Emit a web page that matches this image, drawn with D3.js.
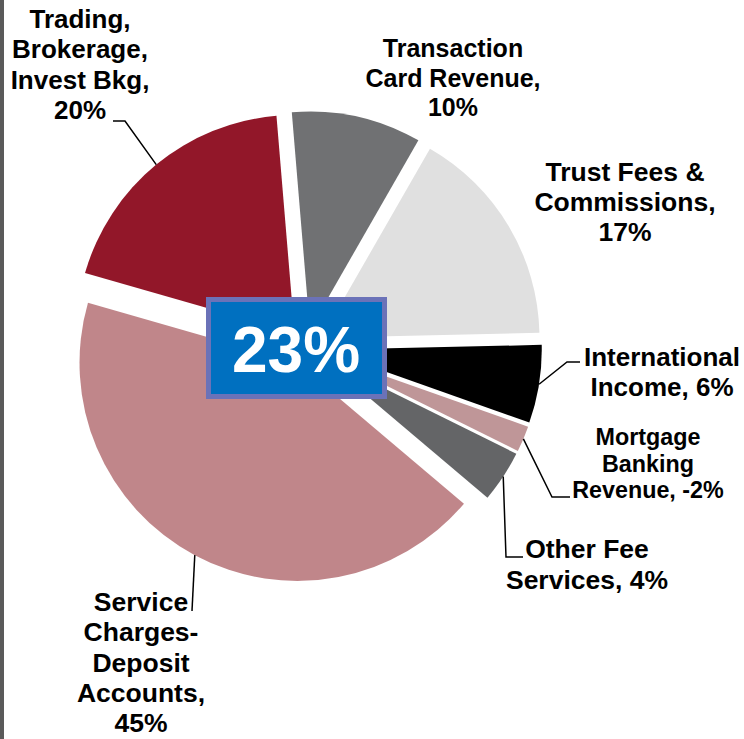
<!DOCTYPE html>
<html lang="en">
<head>
<meta charset="utf-8">
<title>Fee income mix</title>
<script src="https://cdn.jsdelivr.net/npm/d3@7"></script>
<style>
  body { margin: 0; background: #fff; }
  svg text { font-family: "Liberation Sans", Arial, sans-serif; font-weight: bold; }
</style>
</head>
<body>
<div id="chart"></div>
<script>
// slices, clockwise from the upper left
var categories = ["Trading, Brokerage, Invest Bkg", "Transaction Card Revenue",
                  "Trust Fees & Commissions", "International Income",
                  "Mortgage Banking Revenue", "Other Fee Services",
                  "Service Charges-Deposit Accounts"];
var values = [20, 10, 17, 6, -2, 4, 45];
// label text lines, the value gets added to the last line
var labelText = [["Trading,", "Brokerage,", "Invest Bkg,", ""],
                 ["Transaction", "Card Revenue,", ""],
                 ["Trust Fees &", "Commissions,", ""],
                 ["International", "Income, "],
                 ["Mortgage", "Banking", "Revenue, "],
                 ["Other Fee", "Services, "],
                 ["Service", "Charges-", "Deposit", "Accounts,", ""]];
var colors = ["#921729", "#707173", "#e0e0e0", "#000000", "#bf9698", "#646567", "#c0868a"];
var centerValue = "23%";

var width = 744, height = 739;
var cx = 306, cy = 347, radius = 218, explode = 18;

// where the labels sit (centre x, first baseline) and their leader elbows
var labelPos = [
    {x: 80,  y: 28,  lh: 30.3, size: 26,   leader: [[113, 121], [125, 121]]},
    {x: 453, y: 57,  lh: 29.5, size: 25,   leader: null},
    {x: 625, y: 181, lh: 30,   size: 26.5, leader: null},
    {x: 662, y: 366, lh: 30,   size: 26,   leader: [[580, 362], [567, 362]]},
    {x: 648, y: 445, lh: 26.5, size: 23.3, leader: [[570, 497], [552, 497]]},
    {x: 587, y: 558, lh: 31,   size: 26.5, leader: [[523, 557], [506, 557]]},
    {x: 141, y: 611, lh: 30.3, size: 26.5, leader: [[192, 611]]}
];

var svg = d3.select("#chart").append("svg")
    .attr("width", width)
    .attr("height", height);

// thin frame edge on the left
svg.append("rect")
    .attr("x", 0).attr("y", 0)
    .attr("width", 4).attr("height", height)
    .attr("fill", "#5a5a5a");

var start = -74 * Math.PI / 180;
var pie = d3.pie()
    .sort(null)
    .value(function(d) { return Math.abs(d); })
    .startAngle(start)
    .endAngle(start + 2 * Math.PI);

var arcs = pie(values);

var arc = d3.arc()
    .innerRadius(0)
    .outerRadius(radius);

function offset(d, r) {
    var mid = (d.startAngle + d.endAngle) / 2;
    return [Math.sin(mid) * r, -Math.cos(mid) * r];
}

var g = svg.append("g")
    .attr("transform", "translate(" + cx + "," + cy + ")");

g.selectAll("path.slice")
    .data(arcs)
    .enter()
    .append("path")
    .attr("class", "slice")
    .attr("d", arc)
    .attr("fill", function(d, i) { return colors[i]; })
    .attr("transform", function(d) {
        var o = offset(d, explode);
        return "translate(" + o[0] + "," + o[1] + ")";
    });

// leader lines from the middle of each slice's rim
var line = d3.line();
arcs.forEach(function(d, i) {
    var p = labelPos[i];
    if (!p.leader) return;
    var o = offset(d, explode);
    var rim = offset(d, radius);
    var pts = [[cx + o[0] + rim[0], cy + o[1] + rim[1]]];
    p.leader.slice().reverse().forEach(function(q) { pts.push(q); });
    svg.append("path")
        .attr("d", line(pts))
        .attr("fill", "none")
        .attr("stroke", "#000")
        .attr("stroke-width", 1.5);
});

// labels
labelText.forEach(function(lines, i) {
    var p = labelPos[i];
    var txt = lines.slice();
    txt[txt.length - 1] = txt[txt.length - 1] + values[i] + "%";
    var t = svg.append("text")
        .attr("text-anchor", "middle")
        .attr("font-size", p.size)
        .attr("fill", "#000");
    txt.forEach(function(s, k) {
        t.append("tspan")
            .attr("x", p.x)
            .attr("y", p.y + k * p.lh)
            .text(s);
    });
});

// centre callout
svg.append("rect")
    .attr("x", 208.5).attr("y", 299.5)
    .attr("width", 176).attr("height", 97)
    .attr("fill", "#0070c0")
    .attr("stroke", "#6b72b8")
    .attr("stroke-width", 5);

svg.append("text")
    .attr("x", 296)
    .attr("y", 372)
    .attr("text-anchor", "middle")
    .attr("font-size", 64)
    .attr("fill", "#fff")
    .text(centerValue);
</script>
</body>
</html>
